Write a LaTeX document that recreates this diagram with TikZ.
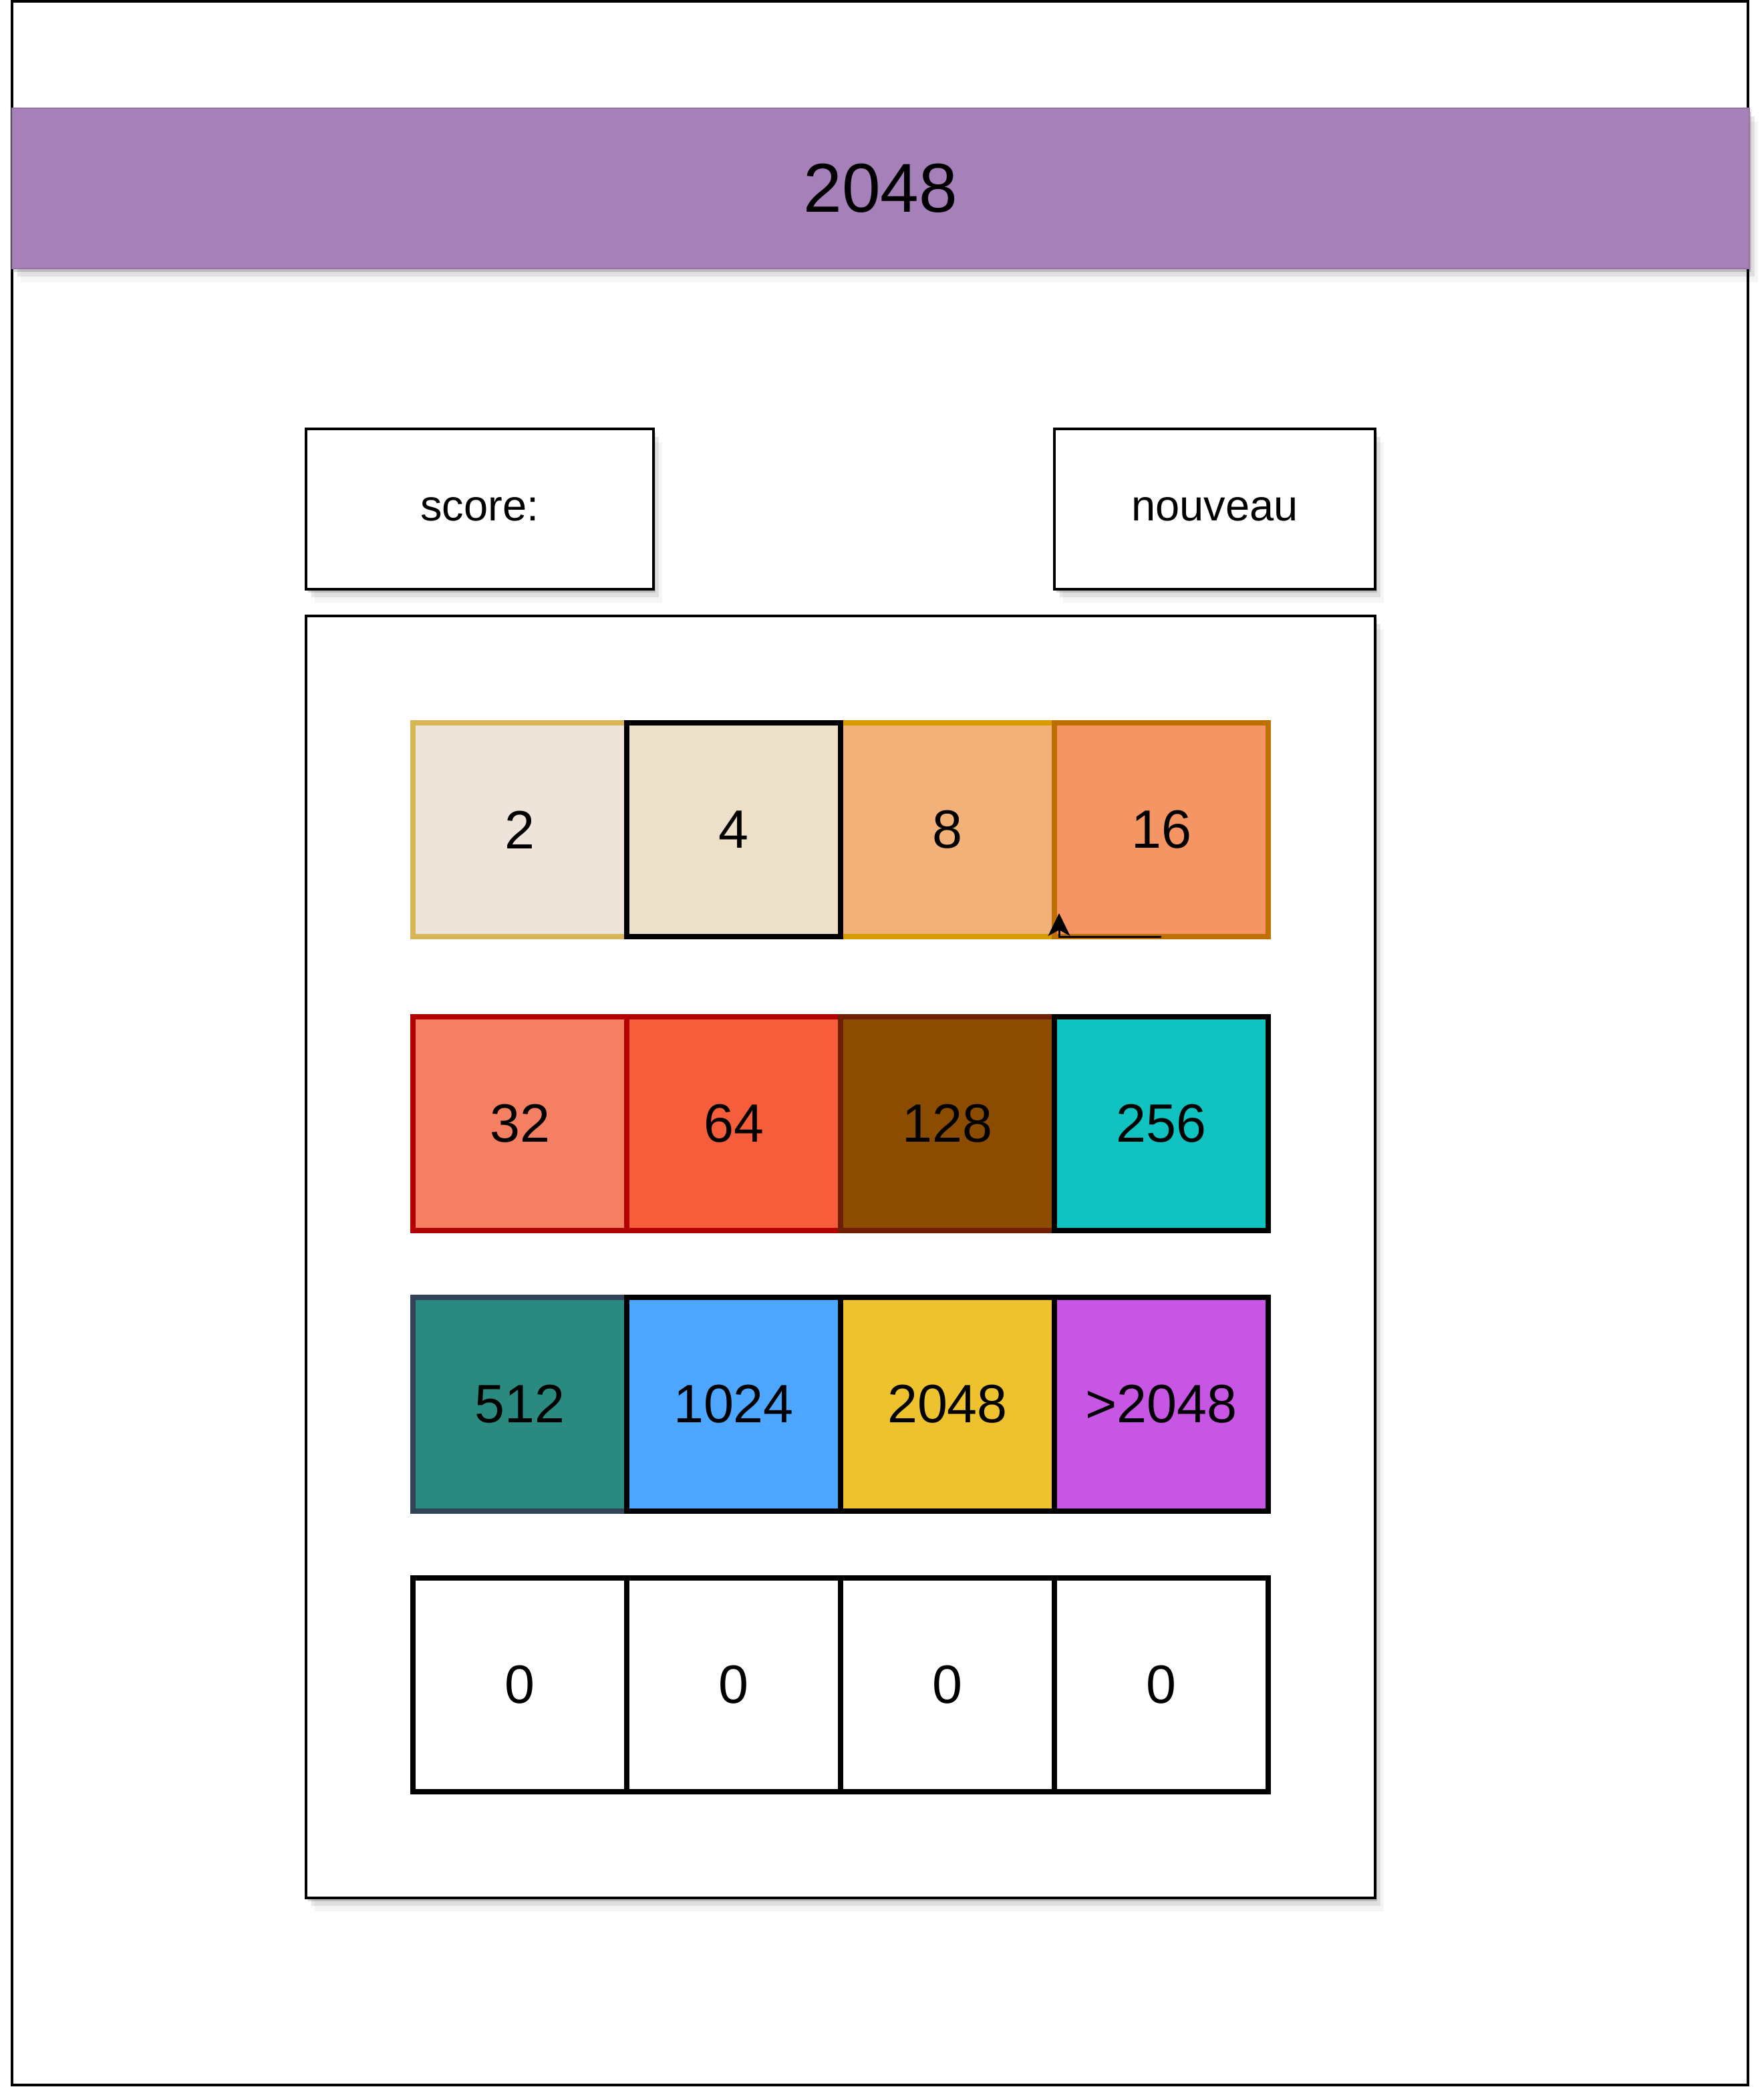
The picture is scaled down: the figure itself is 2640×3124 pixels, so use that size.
\documentclass[tikz,border=0pt]{standalone}
\usepackage{fontspec}
\setmainfont{Liberation Sans}
\usetikzlibrary{positioning,calc,shadows,arrows.meta}

\definecolor{bandfill}{HTML}{A680B8}
\definecolor{bandline}{HTML}{9673A6}
\definecolor{c2}{HTML}{EEE4DA}
\definecolor{s2}{HTML}{D6B656}
\definecolor{c4}{HTML}{EDE0C8}
\definecolor{c8}{HTML}{F2B179}
\definecolor{s8}{HTML}{D79B00}
\definecolor{c16}{HTML}{F59563}
\definecolor{s16}{HTML}{BD7000}
\definecolor{c32}{HTML}{F57F62}
\definecolor{c64}{HTML}{F65E3B}
\definecolor{sred}{HTML}{B20000}
\definecolor{c128}{HTML}{8C4C00}
\definecolor{s128}{HTML}{6D1F00}
\definecolor{c256}{HTML}{10C2C0}
\definecolor{c512}{HTML}{2B8A80}
\definecolor{s512}{HTML}{314354}
\definecolor{c1024}{HTML}{4DA6FF}
\definecolor{c2048}{HTML}{EDC22E}
\definecolor{cbig}{HTML}{C656E3}

\begin{document}
\begin{tikzpicture}[x=0.1mm,y=-0.1mm,
    >={Stealth[length=3.4mm,width=3.3mm,inset=0.9mm]},
    soft shadow/.style={drop shadow={shadow xshift=0.3mm,shadow yshift=-0.5mm,opacity=.16,fill=black},
                        drop shadow={shadow xshift=0.8mm,shadow yshift=-1.2mm,opacity=.09,fill=black},
                        drop shadow={shadow xshift=1.3mm,shadow yshift=-2mm,opacity=.04,fill=black}},
    band/.style={draw=bandline,fill=bandfill,line width=0.15mm,minimum width=260mm,minimum height=24mm,
                 soft shadow,font=\fontsize{29.5}{35}\selectfont},
    box/.style={draw,line width=0.35mm,fill=white,soft shadow,font=\fontsize{18.5}{22}\selectfont},
    tile/.style={draw,line width=0.8mm,minimum size=32mm,inner sep=0pt,outer sep=0pt,
                 font=\fontsize{23}{28}\selectfont}]

\useasboundingbox (0,0) rectangle (2640,3124);

% page frame
\draw[line width=0.4mm] (18,2) rectangle (2616,3121);

% title bar
\node[band] (title) at (1318,282) {2048};

% score and new game buttons
\node[box,minimum width=52mm,minimum height=24mm] (score) at (718,762) {score:};
\node[box,minimum width=48mm,minimum height=24mm] (new) at (1818,762) {nouveau};

% board
\node[box,minimum width=160mm,minimum height=191.9mm] (board) at (1258,1881.5) {};

% first row
\node[tile,fill=c2,draw=s2] (t2) at (778,1242) {2};
\node[tile,fill=c8,draw=s8,right=32mm of t2] (t8) {8};
\node[tile,fill=c4,right=0mm of t2] (t4) {4};
\node[tile,fill=c16,draw=s16,right=0mm of t8] (t16) {16};

% second row
\node[tile,fill=c32,draw=sred,below=12mm of t2] (t32) {32};
\node[tile,fill=c64,draw=sred,right=0mm of t32] (t64) {64};
\node[tile,fill=c128,draw=s128,right=0mm of t64] (t128) {128};
\node[tile,fill=c256,right=0mm of t128] (t256) {256};

% third row
\node[tile,fill=c512,draw=s512,below=10mm of t32] (t512) {512};
\node[tile,fill=c1024,right=0mm of t512] (t1024) {1024};
\node[tile,fill=c2048,right=0mm of t1024] (t2048) {2048};
\node[tile,fill=cbig,right=0mm of t2048] (tbig) {>2048};

% empty row
\node[tile,fill=white,below=10mm of t512] (e1) {0};
\node[tile,fill=white,right=0mm of e1] (e2) {0};
\node[tile,fill=white,right=0mm of e2] (e3) {0};
\node[tile,fill=white,right=0mm of e3] (e4) {0};

% small connector under the 16
\coordinate (tip) at ($(t16.south west)+(7,-35)$);
\draw[->,line width=0.3mm] (t16.south) -| (tip);

\end{tikzpicture}
\end{document}
